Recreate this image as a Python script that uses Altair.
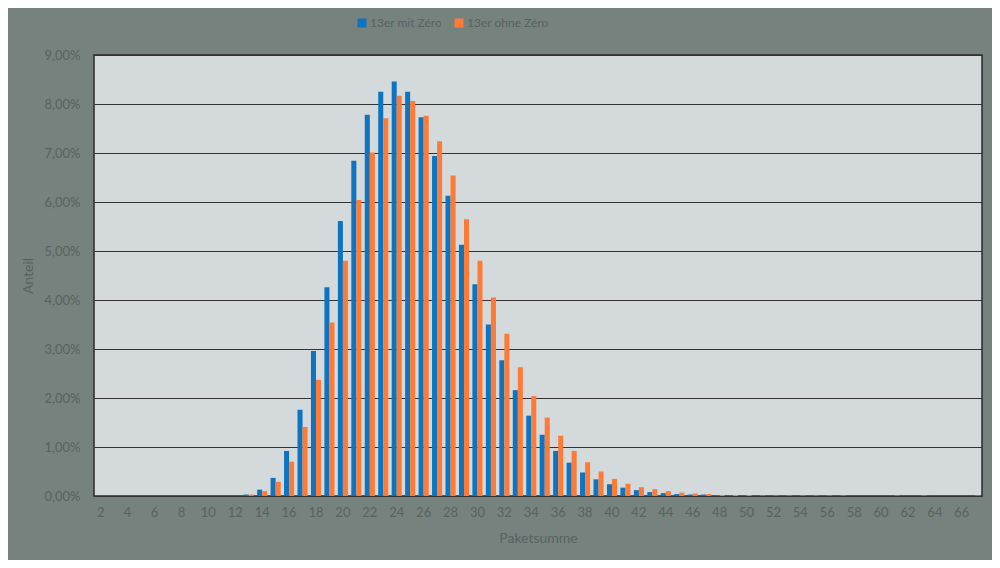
import altair as alt
import pandas as pd

# Paketsumme categories 2..67
categories = list(range(2, 68))

# Anteil in percent (index = Paketsumme 2..67)
mit_zero = [
    0, 0, 0, 0, 0, 0, 0, 0, 0, 0, 0,            # 2-12
    0.03, 0.13, 0.37, 0.92, 1.76, 2.96, 4.26,   # 13-19
    5.61, 6.84, 7.78, 8.25, 8.46, 8.25, 7.73,   # 20-26
    6.94, 6.13, 5.13, 4.32, 3.50, 2.77, 2.16,   # 27-33
    1.64, 1.25, 0.92, 0.68, 0.48, 0.34, 0.24,   # 34-40
    0.17, 0.12, 0.08, 0.06, 0.04, 0.03, 0.03,   # 41-47
    0.02, 0.02, 0.01, 0.01, 0.01, 0.01, 0.01,   # 48-54
    0.01, 0.01, 0, 0, 0, 0, 0,                  # 55-61
    0, 0, 0.01, 0, 0, 0,                        # 62-67
]
ohne_zero = [
    0, 0, 0, 0, 0, 0, 0, 0, 0, 0, 0,            # 2-12
    0.03, 0.10, 0.29, 0.70, 1.41, 2.37, 3.54,   # 13-19
    4.80, 6.04, 7.01, 7.71, 8.17, 8.06, 7.76,   # 20-26
    7.24, 6.54, 5.65, 4.80, 4.05, 3.31, 2.63,   # 27-33
    2.04, 1.60, 1.23, 0.92, 0.69, 0.50, 0.35,   # 34-40
    0.25, 0.18, 0.14, 0.10, 0.07, 0.05, 0.04,   # 41-47
    0.02, 0.02, 0.02, 0.01, 0.01, 0.01, 0.01,   # 48-54
    0.01, 0.01, 0.01, 0, 0, 0, 0.01,            # 55-61
    0, 0.01, 0, 0, 0, 0.01,                     # 62-67
]

series_names = ["13er mit Zéro", "13er ohne Zéro"]
series_colors = ["#0f74c0", "#fd7b36"]
x_label_values = list(range(2, 67, 2))
y_tick_values = list(range(0, 10))

rows = []
for c, a, b in zip(categories, mit_zero, ohne_zero):
    rows.append({"Paketsumme": c, "Serie": series_names[0], "Anteil": a})
    rows.append({"Paketsumme": c, "Serie": series_names[1], "Anteil": b})
df = pd.DataFrame(rows)

text_color = "#57625e"
font = "Lato"

chart = alt.Chart(df).mark_bar().encode(
    x=alt.X(
        "Paketsumme:O",
        sort=categories,
        scale=alt.Scale(domain=categories, paddingInner=0.25, paddingOuter=0.125),
        axis=alt.Axis(
            title="Paketsumme",
            values=x_label_values,
            labelAngle=0,
            ticks=False,
            domain=False,
            grid=False,
            labelPadding=10,
            titlePadding=12,
        ),
    ),
    xOffset=alt.XOffset("Serie:N", sort=series_names, scale=alt.Scale(paddingInner=0, paddingOuter=0)),
    y=alt.Y(
        "Anteil:Q",
        scale=alt.Scale(domain=[0, 9], nice=False),
        axis=alt.Axis(
            title="Anteil",
            values=y_tick_values,
            labelExpr="replace(format(datum.value, '.2f'), '.', ',') + '%'",
            ticks=False,
            domain=False,
            grid=True,
            labelPadding=14,
            titlePadding=9,
        ),
    ),
    color=alt.Color(
        "Serie:N",
        sort=series_names,
        scale=alt.Scale(domain=series_names, range=series_colors),
        legend=alt.Legend(
            title=None,
            orient="none",
            direction="horizontal",
            legendX=262,
            legendY=-38,
            symbolType="square",
            symbolSize=81,
            symbolStrokeWidth=0,
            columnPadding=10,
            labelOffset=2,
        ),
    ),
).properties(
    width=888,
    height=441,
    autosize=alt.AutoSizeParams(type="none"),
    padding={"left": 86, "top": 47, "right": 10, "bottom": 64},
).configure(
    background="#75827e",
    font=font,
).configure_view(
    fill="#d4dadb",
    stroke="#2b2b2b",
    strokeWidth=1.5,
).configure_axis(
    labelColor=text_color,
    titleColor=text_color,
    labelFont=font,
    titleFont=font,
    labelFontSize=13,
    titleFontSize=14,
    titleFontWeight="normal",
    gridColor="#333333",
    gridWidth=1.2,
    gridOpacity=1,
).configure_legend(
    labelColor=text_color,
    labelFont=font,
    labelFontSize=12,
)

chart.save("out.html", embed_options={"renderer": "svg", "actions": False})
